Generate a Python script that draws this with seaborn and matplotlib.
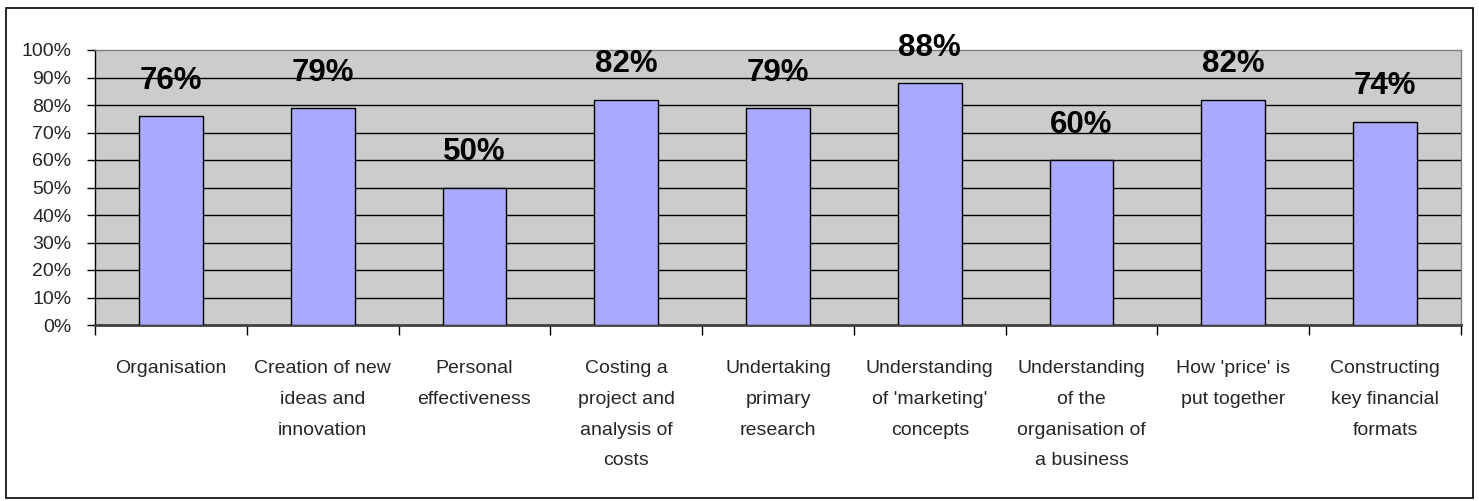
import matplotlib
matplotlib.use("Agg")
import matplotlib.pyplot as plt
import seaborn as sns
import pandas as pd
from matplotlib.patches import Rectangle
from matplotlib.ticker import FixedLocator, FuncFormatter

categories = [
    "Organisation",
    "Creation of new\nideas and\ninnovation",
    "Personal\neffectiveness",
    "Costing a\nproject and\nanalysis of\ncosts",
    "Undertaking\nprimary\nresearch",
    "Understanding\nof 'marketing'\nconcepts",
    "Understanding\nof the\norganisation of\na business",
    "How 'price' is\nput together",
    "Constructing\nkey financial\nformats",
]
values = [76, 79, 50, 82, 79, 88, 60, 82, 74]
yticks = [0, 10, 20, 30, 40, 50, 60, 70, 80, 90, 100]

sns.set_style("white")
plt.rcParams['font.family'] = ['Liberation Sans Narrow', 'Liberation Sans', 'DejaVu Sans']

df = pd.DataFrame({"category": categories, "value": values})

fig = plt.figure(figsize=(14.79, 5.01), dpi=100)
ax = fig.add_axes([95/1479, 1 - 325/501, (1461-95)/1479, (325-50)/501])
ax.set_facecolor("#CCCCCC")

sns.barplot(data=df, x="category", y="value", color="#AAAAFF", saturation=1,
            edgecolor="black", linewidth=1.0, width=0.42, ax=ax, zorder=3)

ax.set_ylim(0, 100)
ax.set_xlim(-0.5, len(categories) - 0.5)
ax.yaxis.set_major_locator(FixedLocator(yticks))
ax.yaxis.set_major_formatter(FuncFormatter(lambda v, p: f"{int(v)}%"))
for y in yticks[1:-1]:
    ax.axhline(y, color="black", lw=1.0, zorder=1)

ax.set_xlabel("")
ax.set_ylabel("")
ax.tick_params(axis="y", labelsize=14, length=6, width=1, color="black", pad=11, left=True)
ax.tick_params(axis="x", which="major", length=0, labelbottom=False)

# category labels drawn as text so that line spacing is kept
for i, cat in enumerate(categories):
    ax.annotate(cat, xy=(i, 0), xycoords=("data", "axes fraction"),
                xytext=(0, -25.5), textcoords="offset points",
                ha="center", va="top", fontsize=14, linespacing=2.05,
                multialignment="center", annotation_clip=False)

# category-boundary tick marks
ax.set_xticks([i - 0.5 for i in range(len(categories) + 1)], minor=True)
ax.tick_params(axis="x", which="minor", length=7, width=1, color="black", bottom=True)

for s in ["top", "right"]:
    ax.spines[s].set_color("#808080")
    ax.spines[s].set_linewidth(1)
ax.spines["left"].set_color("black")
ax.spines["left"].set_linewidth(1)
ax.spines["bottom"].set_color("#404040")
ax.spines["bottom"].set_linewidth(2)

for i, v in enumerate(values):
    ax.annotate(f"{v}%", xy=(i, v), xytext=(0, 19.5), textcoords="offset points",
                ha="center", va="baseline", fontsize=22.5, fontweight="bold",
                color="black", zorder=5, annotation_clip=False)

fig.patches.append(Rectangle((6/1479, 1 - 498/501), (1473-6)/1479, (498-8)/501,
                             transform=fig.transFigure, fill=False,
                             edgecolor="black", linewidth=1.2))

fig.savefig("out.png", dpi=100)
